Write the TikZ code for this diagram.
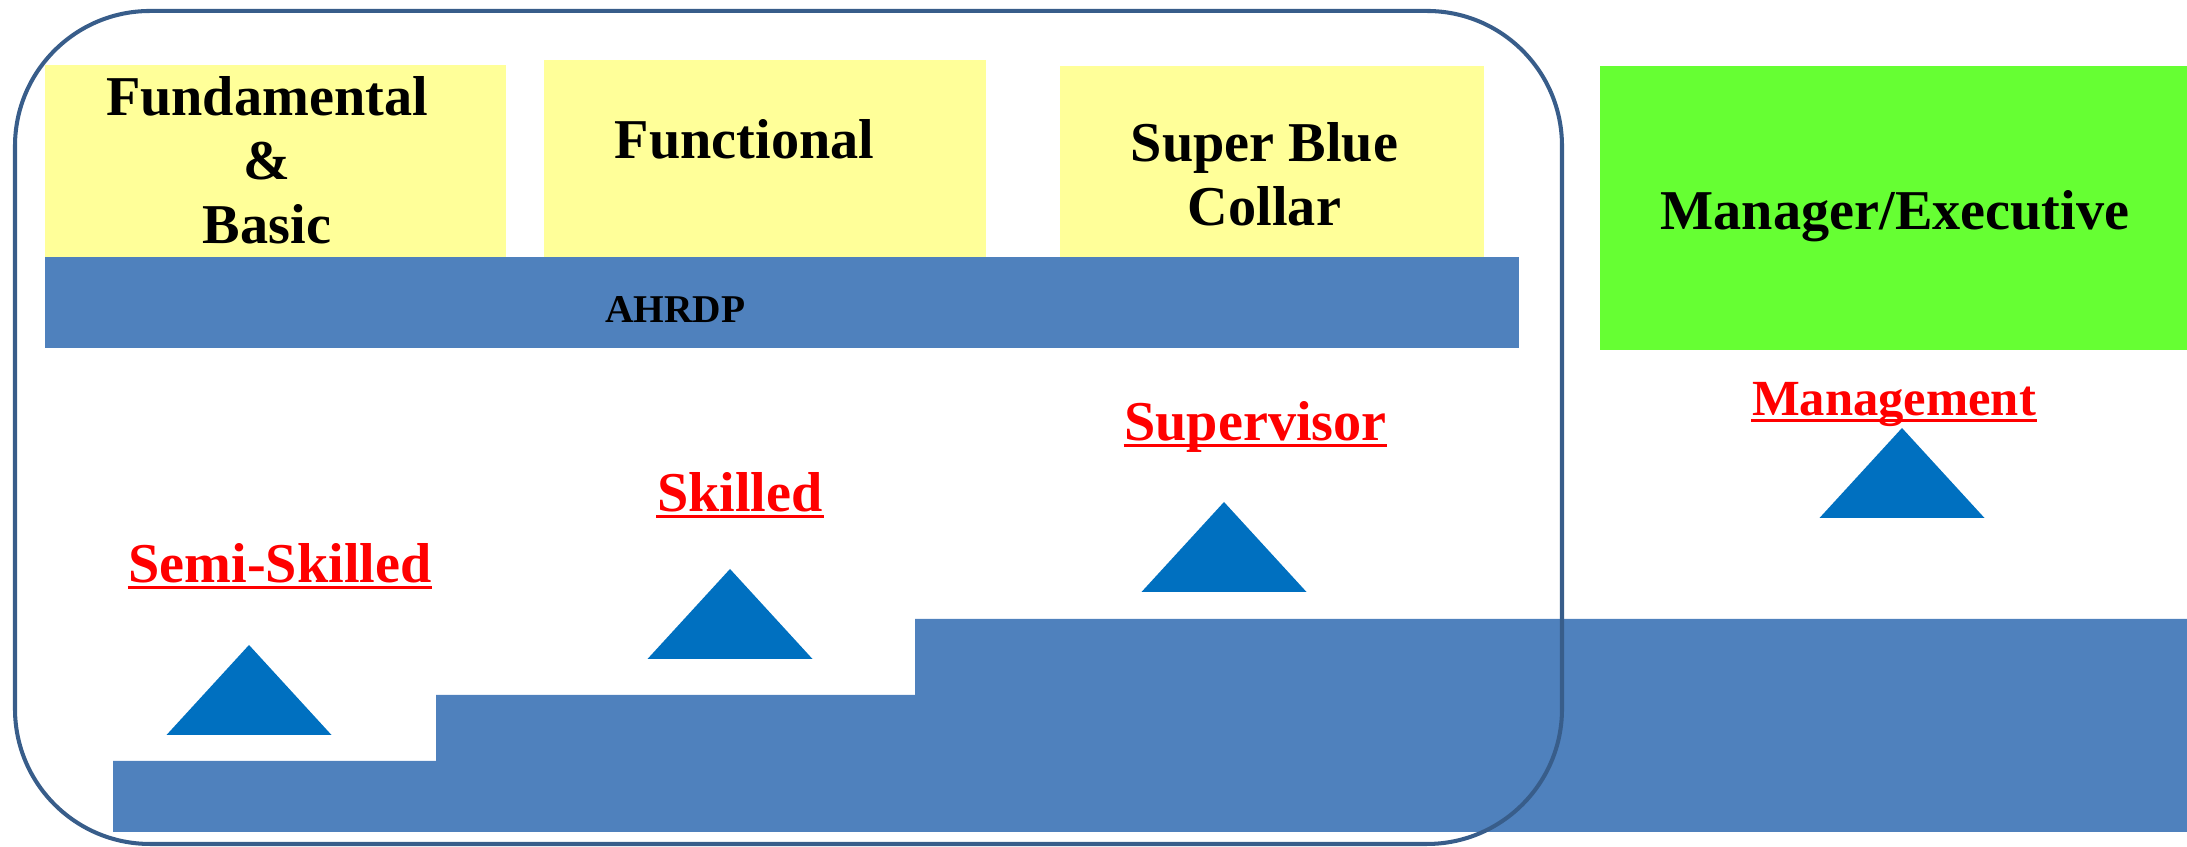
\documentclass[tikz,border=0pt]{standalone}
\usepackage{fontspec}
\setmainfont{Liberation Serif}
\usepackage{tikz}

\definecolor{tieryellow}{HTML}{FFFF99}
\definecolor{barblue}{HTML}{4F81BD}
\definecolor{mgrgreen}{HTML}{66FF33}
\definecolor{frameblue}{HTML}{385D8A}
\definecolor{triblue}{HTML}{0070C0}

\begin{document}
\begin{tikzpicture}[
      every node/.style={font=\bfseries},
      tierbox/.style={
        rectangle, inner sep=0pt, fill=tieryellow
      },
      mgrbox/.style={
        rectangle, inner sep=0pt, fill=mgrgreen
      },
      barbox/.style={
        rectangle, inner sep=0pt, fill=barblue
      },
      tiertext/.style={
        align=center, inner sep=0pt,
        font=\bfseries\fontsize{16}{18.2}\selectfont
      },
      bartext/.style={
        anchor=base, inner sep=0pt,
        font=\bfseries\fontsize{11.2}{13}\selectfont
      },
      ranklabel/.style={
        anchor=base, inner sep=0pt, text=red,
        font=\bfseries\fontsize{16}{18}\selectfont
      },
      underl/.style={red, line width=0.85pt},
      tri/.style={fill=triblue},
      frame/.style={draw=frameblue, line width=1.15pt, rounded corners=1.35cm}
    ]
    \useasboundingbox (0,0) rectangle (21.87,8.47);

    % ===== Top row: training tiers =====
    \node[tierbox, minimum width=4.61cm, minimum height=1.92cm] (fb) at (2.755,6.86) {};
    \node[tierbox, minimum width=4.42cm, minimum height=1.97cm] (fn) at (7.65,6.885) {};
    \node[tierbox, minimum width=4.24cm, minimum height=1.91cm] (sb) at (12.72,6.855) {};
    \node[mgrbox, minimum width=5.87cm, minimum height=2.84cm] (me) at (18.935,6.39) {};

    \node[tiertext] (fbtext) at (2.67,6.87) {Fundamental\\\&\\Basic};
    \node[tiertext, anchor=base] (fntext) at (7.445,6.88) {Functional};
    \node[tiertext] (sbtext) at (12.645,6.725) {Super Blue\\Collar};
    \node[tiertext, anchor=base] (metext) at (18.95,6.17) {Manager/Executive};

    % ===== Programme bar under the tiers =====
    \node[barbox, minimum width=14.74cm, minimum height=0.91cm] (ahrdp) at (7.82,5.445) {};
    \node[bartext] (ahrdptext) at (6.755,5.24) {AHRDP};

    % ===== Staircase =====
    \fill[barblue] (1.13,0.15) -- (1.13,0.86) -- (4.36,0.86) -- (4.36,1.52)
      -- (9.15,1.52) -- (9.15,2.28) -- (21.87,2.28) -- (21.87,0.15) -- cycle;

    % ===== Markers on each step =====
    \foreach \x/\y in {2.49/1.12, 7.30/1.88, 12.24/2.55, 19.02/3.29}
      \fill[tri] (\x-0.825,\y) -- (\x+0.825,\y) -- (\x,\y+0.9) -- cycle;

    % ===== Level labels =====
    \node[ranklabel] (semi) at (2.80,2.64) {Semi-Skilled};
    \node[ranklabel] (skl) at (7.40,3.35) {Skilled};
    \node[ranklabel] (sup) at (12.555,4.06) {Supervisor};
    \node[ranklabel, font=\bfseries\fontsize{14.4}{16}\selectfont] (mgmt) at (18.94,4.31) {Management};
    \foreach \n in {semi,skl,sup,mgmt}
      \draw[underl] ([yshift=-1.3pt]\n.base west) -- ([yshift=-1.3pt]\n.base east);

    % ===== Frame round the AHRDP levels =====
    \draw[frame] (0.15,0.03) rectangle (15.62,8.36);
  \end{tikzpicture}
\end{document}
